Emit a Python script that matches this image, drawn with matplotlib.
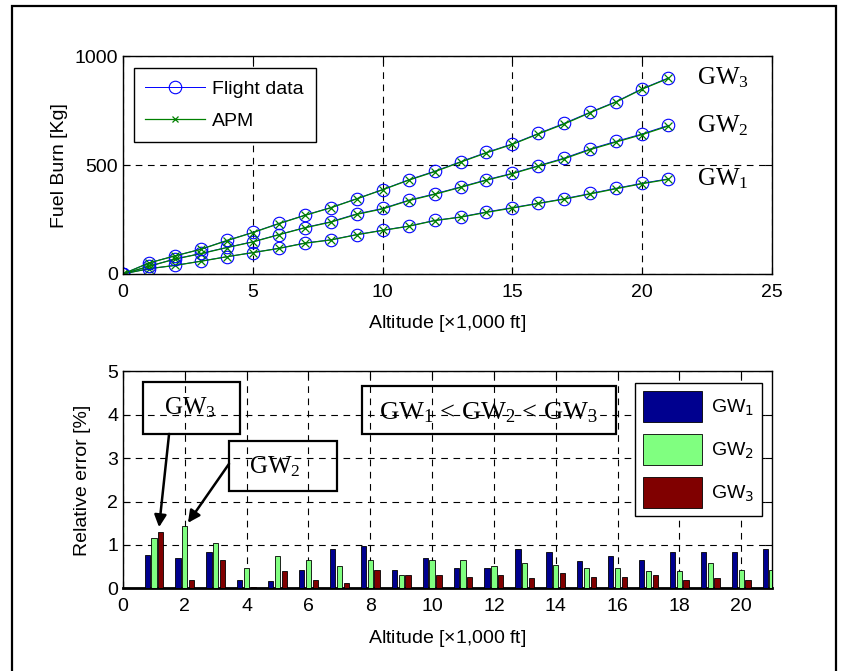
import numpy as np
import matplotlib
matplotlib.use('Agg')
import matplotlib.pyplot as plt
from matplotlib.patches import Rectangle
from matplotlib.lines import Line2D

plt.rcParams['font.family'] = ['Liberation Sans', 'DejaVu Sans']
plt.rcParams['mathtext.fontset'] = 'custom'

# fuel burn vs altitude
alt = np.arange(0, 22)
gw1_fd = [0, 24, 39, 59, 79, 98, 118, 142, 157, 181, 201, 220, 246, 262, 285, 305, 325, 346, 370, 394, 417, 437]
gw2_fd = [0, 35, 69, 94, 122, 148, 181, 213, 240, 276, 301, 339, 368, 400, 433, 463, 498, 533, 575, 610, 644, 683]
gw3_fd = [0, 51, 83, 114, 154, 191, 232, 270, 305, 346, 388, 433, 472, 516, 559, 598, 646, 693, 744, 793, 852, 901]
gw1_apm = [0, 24, 39, 58, 79, 98, 117, 141, 156, 180, 200, 219, 245, 261, 283, 303, 324, 344, 368, 392, 415, 435]
gw2_apm = [0, 35, 68, 93, 121, 147, 180, 212, 238, 274, 299, 337, 366, 398, 431, 461, 496, 530, 572, 607, 641, 680]
gw3_apm = [0, 50, 83, 113, 153, 190, 231, 269, 304, 345, 387, 431, 470, 514, 557, 596, 644, 690, 742, 791, 850, 899]

# relative error [%]
alt_err = np.arange(1, 22)
err_gw1 = [0.78, 0.69, 0.85, 0.20, 0.16, 0.43, 0.90, 0.97, 0.43, 0.70, 0.47,
           0.47, 0.90, 0.85, 0.63, 0.74, 0.66, 0.85, 0.85, 0.85, 0.90]
err_gw2 = [1.16, 1.43, 1.04, 0.46, 0.74, 0.66, 0.51, 0.66, 0.31, 0.66, 0.66,
           0.51, 0.58, 0.54, 0.46, 0.46, 0.39, 0.39, 0.58, 0.43, 0.43]
err_gw3 = [1.31, 0.19, 0.66, 0.04, 0.40, 0.19, 0.13, 0.43, 0.31, 0.31, 0.27,
           0.31, 0.24, 0.36, 0.27, 0.27, 0.31, 0.19, 0.24, 0.19, 0.20]

fs = 14
serif = ['Liberation Serif', 'DejaVu Serif']
grid_kw = dict(color='k', linestyle=(0, (6, 5)), linewidth=0.8)

fig = plt.figure(figsize=(8.41, 6.71), dpi=100)

# outer frame
fig.patches.append(Rectangle((12 / 841, -0.1), 824 / 841, 1.1 - 6 / 671,
                             transform=fig.transFigure, fill=False,
                             edgecolor='k', linewidth=1.6))

ax1 = fig.add_axes([0.1463, 0.5918, 0.7717, 0.324])
ax2 = fig.add_axes([0.1463, 0.1231, 0.7717, 0.3234])

for fd, apm in [(gw1_fd, gw1_apm), (gw2_fd, gw2_apm), (gw3_fd, gw3_apm)]:
    ax1.plot(alt, fd, '-o', color='b', mfc='none', mec='b', ms=9, mew=0.8, lw=0.7)
    ax1.plot(alt, apm, '-x', color='#008000', ms=6, mew=0.9, lw=0.9)

ax1.set_xlim(0, 25)
ax1.set_ylim(0, 1000)
ax1.set_xticks([0, 5, 10, 15, 20, 25])
ax1.set_yticks([0, 500, 1000])
ax1.grid(True, **grid_kw)
ax1.set_xlabel(r'Altitude [$\mathregular{\times}$1,000 ft]', fontsize=fs, labelpad=9)
ax1.set_ylabel('Fuel Burn [Kg]', fontsize=fs, labelpad=5)

h1 = Line2D([], [], color='b', marker='o', mfc='none', mec='b', ms=9, mew=0.8, lw=0.7)
h2 = Line2D([], [], color='#008000', marker='x', ms=5, mew=0.9, lw=0.9)
leg1 = ax1.legend([h1, h2], ['Flight data', 'APM'], loc='upper left',
                  bbox_to_anchor=(0.0162, 0.9448), borderaxespad=0,
                  fontsize=fs, handlelength=3.05, handletextpad=0.4,
                  labelspacing=0.75, borderpad=0.6,
                  fancybox=False, framealpha=1, edgecolor='k')
leg1.get_frame().set_linewidth(1.0)

for lab, yv in [('GW$\\mathregular{_3}$', gw3_fd[-1]), ('GW$\\mathregular{_2}$', gw2_fd[-1]),
                ('GW$\\mathregular{_1}$', gw1_fd[-1])]:
    ax1.text(22.1, yv, lab, fontsize=18, family=serif, ha='left', va='center')

# bars
w = 0.17
off = 0.22
ax2.bar(alt_err - off, err_gw1, w, color='#00008F', edgecolor='k', linewidth=0.6, label='GW$_1$', zorder=3)
ax2.bar(alt_err, err_gw2, w, color='#80FF80', edgecolor='k', linewidth=0.6, label='GW$_2$', zorder=3)
ax2.bar(alt_err + off, err_gw3, w, color='#800000', edgecolor='k', linewidth=0.6, label='GW$_3$', zorder=3)
ax2.set_xlim(0, 21)
ax2.set_ylim(0, 5)
ax2.set_xticks(np.arange(0, 21, 2))
ax2.set_yticks(np.arange(0, 6))
ax2.grid(True, **grid_kw)
ax2.set_axisbelow(True)
ax2.set_xlabel(r'Altitude [$\mathregular{\times}$1,000 ft]', fontsize=fs, labelpad=9)
ax2.set_ylabel('Relative error [%]', fontsize=fs, labelpad=12)
ax2.spines['bottom'].set_linewidth(2)

leg2 = ax2.legend(loc='upper right', bbox_to_anchor=(0.9846, 0.9465), borderaxespad=0,
                  fontsize=fs, handlelength=3.05, handleheight=2.1, labelspacing=0.6,
                  handletextpad=0.45,
                  fancybox=False, framealpha=1, edgecolor='k')
leg2.get_frame().set_linewidth(1.0)

# annotation boxes
for (x0, y0, bw, bh) in [(0.65, 3.56, 3.14, 1.20), (3.43, 2.24, 3.50, 1.16), (7.73, 3.56, 8.21, 1.11)]:
    ax2.add_patch(Rectangle((x0, y0), bw, bh, fill=False, edgecolor='k', linewidth=1.6, zorder=5))
ax2.text(2.16, 4.16, 'GW$\\mathregular{_3}$', fontsize=18, family=serif, ha='center', va='center', zorder=6)
ax2.text(4.92, 2.80, 'GW$\\mathregular{_2}$', fontsize=18, family=serif, ha='center', va='center', zorder=6)
ax2.text(11.81, 4.05, 'GW$\\mathregular{_1}$ < GW$\\mathregular{_2}$ < GW$\\mathregular{_3}$',
         fontsize=19, family=serif, ha='center', va='center', zorder=6)
ax2.annotate('', xy=(1.165, 1.41), xytext=(1.49, 3.56),
             arrowprops=dict(arrowstyle='-|>', color='k', lw=1.8, mutation_scale=18, shrinkA=0, shrinkB=0), zorder=6)
ax2.annotate('', xy=(2.10, 1.51), xytext=(3.43, 2.87),
             arrowprops=dict(arrowstyle='-|>', color='k', lw=1.8, mutation_scale=18, shrinkA=0, shrinkB=0), zorder=6)

for ax in (ax1, ax2):
    ax.tick_params(direction='in', top=True, right=True, labelsize=fs, length=5)
    ax.tick_params(axis='x', pad=7)
    for s in ('top', 'left', 'right'):
        ax.spines[s].set_linewidth(1.0)
ax1.spines['bottom'].set_linewidth(1.0)

fig.savefig('out.png', dpi=100)
